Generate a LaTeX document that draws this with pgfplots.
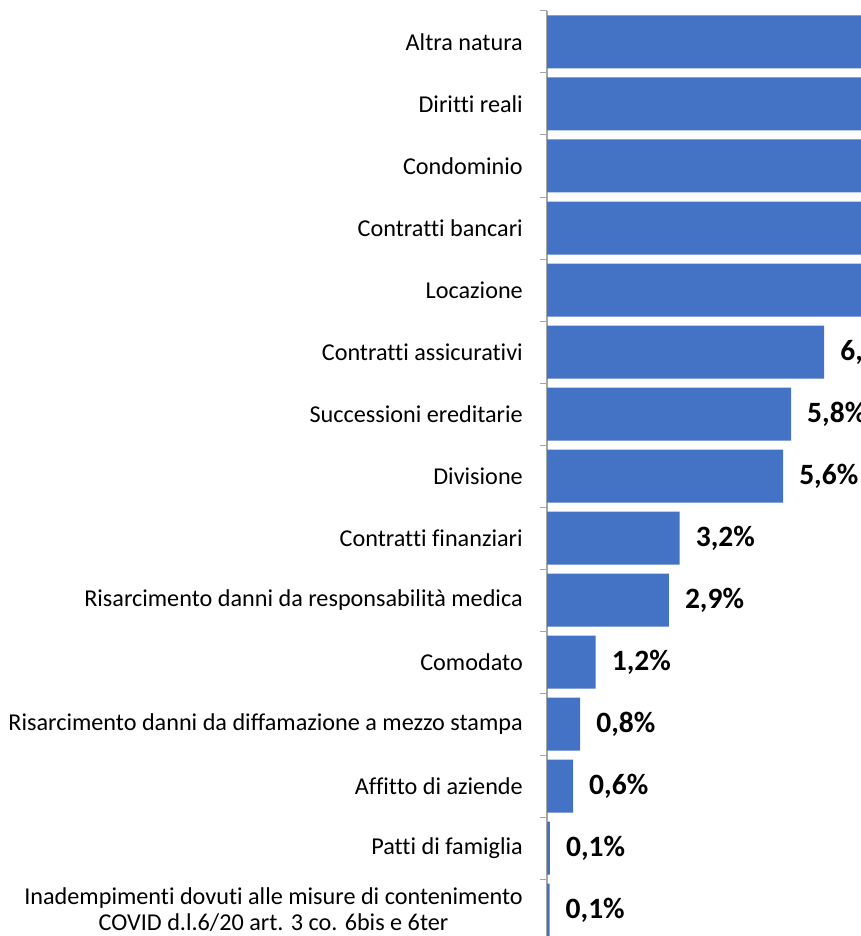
\documentclass[border=0pt]{standalone}
\usepackage{fontspec}
\setmainfont{Carlito}[Ligatures=NoCommon]
\usepackage{pgfplots}
\pgfplotsset{compat=1.18}
\definecolor{barblue}{HTML}{4472C4}
\definecolor{axgray}{HTML}{A6A6A6}
\begin{document}
\begin{tikzpicture}[x=1pt,y=1pt]
\begin{axis}[
  at={(547pt,925pt)}, anchor=north west,
  scale only axis, width=314pt, height=930pt,
  xbar, bar width=53pt,
  xmin=0, xmax=7.476,
  ymin=-0.5, ymax=14.5, y dir=reverse,
  enlargelimits=false,
  axis x line=none,
  axis y line*=left,
  axis line style={-, draw=axgray, line width=1.2pt},
  xtick=\empty,
  ytick={0,...,14},
  major tick length=0pt,
  minor ytick={-0.5,0.5,...,14.5},
  minor tick length=7pt,
  tick align=outside,
  minor tick style={draw=axgray, line width=1pt},
  yticklabels={Altra natura, Diritti reali, Condominio, Contratti bancari, Locazione, Contratti assicurativi, Successioni ereditarie, Divisione, Contratti finanziari, Risarcimento danni da responsabilità medica, Comodato, Risarcimento danni da diffamazione a mezzo stampa, Affitto di aziende, Patti di famiglia, {Inadempimenti dovuti alle misure di contenimento\\COVID d.l.6/20 art. 3 co. 6bis e 6ter}},
  yticklabel style={font=\fontsize{24.2}{26}\selectfont, align=center, inner sep=0pt, anchor=east, xshift=-24pt},
  point meta=x,
  /pgf/number format/use comma,
  /pgf/number format/fixed,
  /pgf/number format/fixed zerofill,
  /pgf/number format/precision=1,
  /pgf/number format/assume math mode=true,
  nodes near coords={\pgfmathprintnumber{\pgfplotspointmeta}\%},
  every node near coord/.append style={font=\bfseries\fontsize{29.5}{31}\selectfont, anchor=west, inner sep=0pt, xshift=16pt, text=black},
]
\addplot[draw=none, fill=barblue] coordinates {
  (19.0,0) (14.5,1) (12.5,2) (10.0,3) (8.4,4)
  (6.6,5) (5.81,6) (5.62,7) (3.16,8) (2.9,9)
  (1.16,10) (0.79,11) (0.62,12) (0.07,13) (0.06,14)
};
\end{axis}
\pgfresetboundingbox
\useasboundingbox (0,0) rectangle (861,936);
\end{tikzpicture}
\end{document}
